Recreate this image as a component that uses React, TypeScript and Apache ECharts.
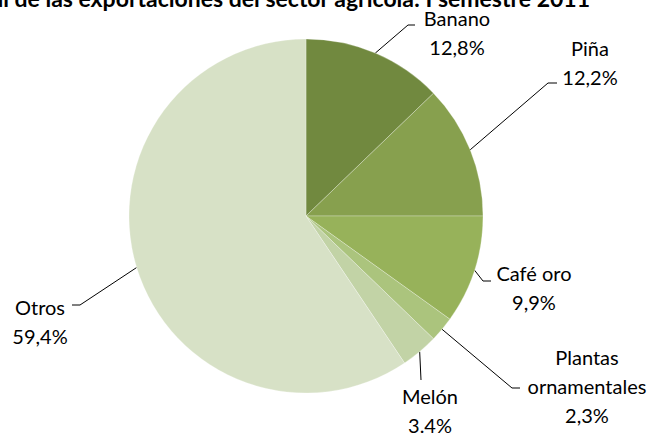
import React, { useEffect, useRef } from "react";
import * as echarts from "echarts";

const categories = ["Banano", "Piña", "Café oro", "Plantas ornamentales", "Melón", "Otros"];
const values = [12.8, 12.2, 9.9, 2.3, 3.4, 59.4];
const pctLabels = ["12,8%", "12,2%", "9,9%", "2,3%", "3.4%", "59,4%"];
const displayNames = ["Banano", "Piña", "Café oro", "Plantas\nornamentales", "Melón", "Otros"];
const colors = ["#71893f", "#87a04e", "#97b25a", "#abc47d", "#c2d3a6", "#d7e1c6"];

// label placement (layout only)
const labelCenters: [number, number][] = [
  [457, 32],
  [590, 62],
  [534, 287],
  [587, 386],
  [430, 410],
  [40, 321],
];
const lineBends: [number, number][][] = [
  [[408, 25], [415, 25]],
  [[548, 83], [557, 83]],
  [[483, 281], [491, 281]],
  [[512, 388], [520, 388]],
  [[421, 380]],
  [[80, 305], [72, 305]],
];

const TITLE = "Estructura porcentual de las exportaciones del sector agrícola: I semestre 2011";

export default function App() {
  const ref = useRef<HTMLDivElement>(null);
  useEffect(() => {
    if (!ref.current) return;
    const chart = echarts.init(ref.current, null, { renderer: "svg" });
    const cx = 306, cy = 216, r = 177;
    chart.setOption({
      animation: false,
      backgroundColor: "#ffffff",
      graphic: [
        {
          type: "text",
          x: 590,
          y: 9,
          style: {
            text: TITLE,
            align: "right",
            verticalAlign: "bottom",
            font: "bold 23px Lato, sans-serif",
            fill: "#000",
          },
        },
      ],
      series: [
        {
          type: "pie",
          center: [cx, cy],
          radius: r,
          startAngle: 90,
          clockwise: true,
          avoidLabelOverlap: false,
          itemStyle: { borderColor: "rgba(255,255,255,0.45)", borderWidth: 0.6 },
          label: {
            show: true,
            position: "outside",
            fontFamily: "Lato, sans-serif",
            fontSize: 20,
            lineHeight: 29,
            color: "#000",
            align: "center",
            formatter: (p: any) => `${displayNames[p.dataIndex]}\n${pctLabels[p.dataIndex]}`,
          },
          labelLine: { show: true, lineStyle: { color: "#000", width: 1 } },
          labelLayout: (p: any) => {
            const i = p.dataIndex;
            let start = p.labelLinePoints && p.labelLinePoints[0];
            if (!start) {
              let acc = 0;
              for (let k = 0; k < i; k++) acc += values[k];
              const mid = ((acc + values[i] / 2) / 100) * Math.PI * 2;
              start = [cx + r * Math.sin(mid), cy - r * Math.cos(mid)];
            }
            return {
              x: labelCenters[i][0],
              y: labelCenters[i][1],
              align: "center",
              verticalAlign: "middle",
              labelLinePoints: [start, ...lineBends[i]],
            };
          },
          emphasis: { disabled: true },
          data: categories.map((c, i) => ({ name: c, value: values[i], itemStyle: { color: colors[i] } })),
        },
      ],
    });
    return () => chart.dispose();
  }, []);
  return <div ref={ref} style={{ position: "fixed", left: 0, top: 0, width: 662, height: 433 }} />;
}
